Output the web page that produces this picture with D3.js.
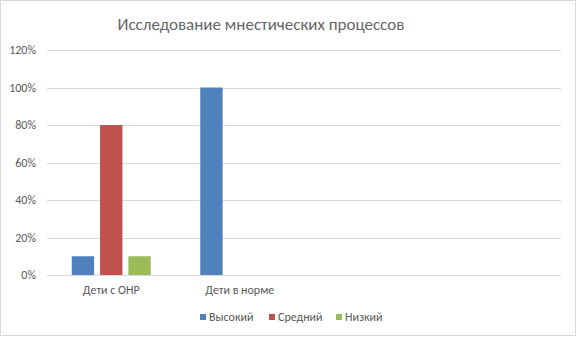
<!DOCTYPE html>
<html>
<head>
<meta charset="utf-8">
<script src="https://cdn.jsdelivr.net/npm/d3@7"></script>
<style>
  body { margin: 0; background: #fff; }
  text { font-family: Carlito, Calibri, "Open Sans", sans-serif; fill: #595959; }
</style>
</head>
<body>
<svg id="chart" width="578" height="338"></svg>
<script>
// categories (last two slots are empty in the source chart)
const categories = ["Дети с ОНР", "Дети в норме", "", ""];
const seriesNames = ["Высокий", "Средний", "Низкий"];
const highValues = [10, 100, 0, 0];
const midValues = [80, 0, 0, 0];
const lowValues = [10, 0, 0, 0];
const yTicks = [0, 20, 40, 60, 80, 100, 120];
const colors = ["#4F81BD", "#C0504D", "#9BBB59"];

const series = [highValues, midValues, lowValues];

const svg = d3.select("#chart");
const margin = { left: 47, right: 17, top: 50, bottom: 63 };
const width = 578, height = 338;

svg.append("rect")
  .attr("x", 0.5).attr("y", 0.5)
  .attr("width", 575).attr("height", 335)
  .attr("fill", "#fff").attr("stroke", "#d9d9d9");

// keys for the band scale must be unique
const keys = categories.map((c, i) => i);
const x = d3.scaleBand()
  .domain(keys)
  .range([margin.left, width - margin.right]);
const x1 = d3.scaleBand()
  .domain(seriesNames)
  .range([0, 79])
  .paddingInner(0.21);
const y = d3.scaleLinear()
  .domain([0, 120])
  .range([height - margin.bottom, margin.top]);

// gridlines
svg.append("g")
  .selectAll("line")
  .data(yTicks)
  .join("line")
  .attr("x1", margin.left).attr("x2", width - margin.right)
  .attr("y1", d => Math.round(y(d)) + 0.5).attr("y2", d => Math.round(y(d)) + 0.5)
  .attr("stroke", "#d9d9d9").attr("stroke-width", 1);

// y labels
svg.append("g")
  .selectAll("text")
  .data(yTicks)
  .join("text")
  .attr("x", 36)
  .attr("y", d => y(d) + 4)
  .attr("text-anchor", "end")
  .style("font-size", "12px")
  .text(d => d + "%");

// bars
const groupOffset = (x.bandwidth() - 79) / 2;
svg.append("g")
  .selectAll("g")
  .data(series)
  .join("g")
  .attr("fill", (d, i) => colors[i])
  .selectAll("rect")
  .data((vals, si) => vals.map((v, ci) => ({ v, ci, s: seriesNames[si] })))
  .join("rect")
  .attr("x", d => x(d.ci) + groupOffset + x1(d.s))
  .attr("y", d => y(d.v))
  .attr("width", x1.bandwidth())
  .attr("height", d => y(0) - y(d.v));

// category labels
svg.append("g")
  .selectAll("text")
  .data(keys)
  .join("text")
  .attr("x", d => x(d) + x.bandwidth() / 2)
  .attr("y", 294)
  .attr("text-anchor", "middle")
  .style("font-size", "12px")
  .text(d => categories[d]);

// title
svg.append("text")
  .attr("x", 261)
  .attr("y", 30)
  .attr("text-anchor", "middle")
  .style("font-size", "17px")
  .style("font-weight", 300)
  .style("fill", "#666")
  .text("Исследование мнестических процессов");

// legend
const legendX = [200, 269, 336];
const legend = svg.append("g")
  .selectAll("g")
  .data(seriesNames)
  .join("g")
  .attr("transform", (d, i) => `translate(${legendX[i]},317)`);
legend.append("rect")
  .attr("x", 0).attr("y", -3)
  .attr("width", 6).attr("height", 6)
  .attr("fill", (d, i) => colors[i]);
legend.append("text")
  .attr("x", 9).attr("y", 4)
  .style("font-size", "12px")
  .text(d => d);
</script>
</body>
</html>
